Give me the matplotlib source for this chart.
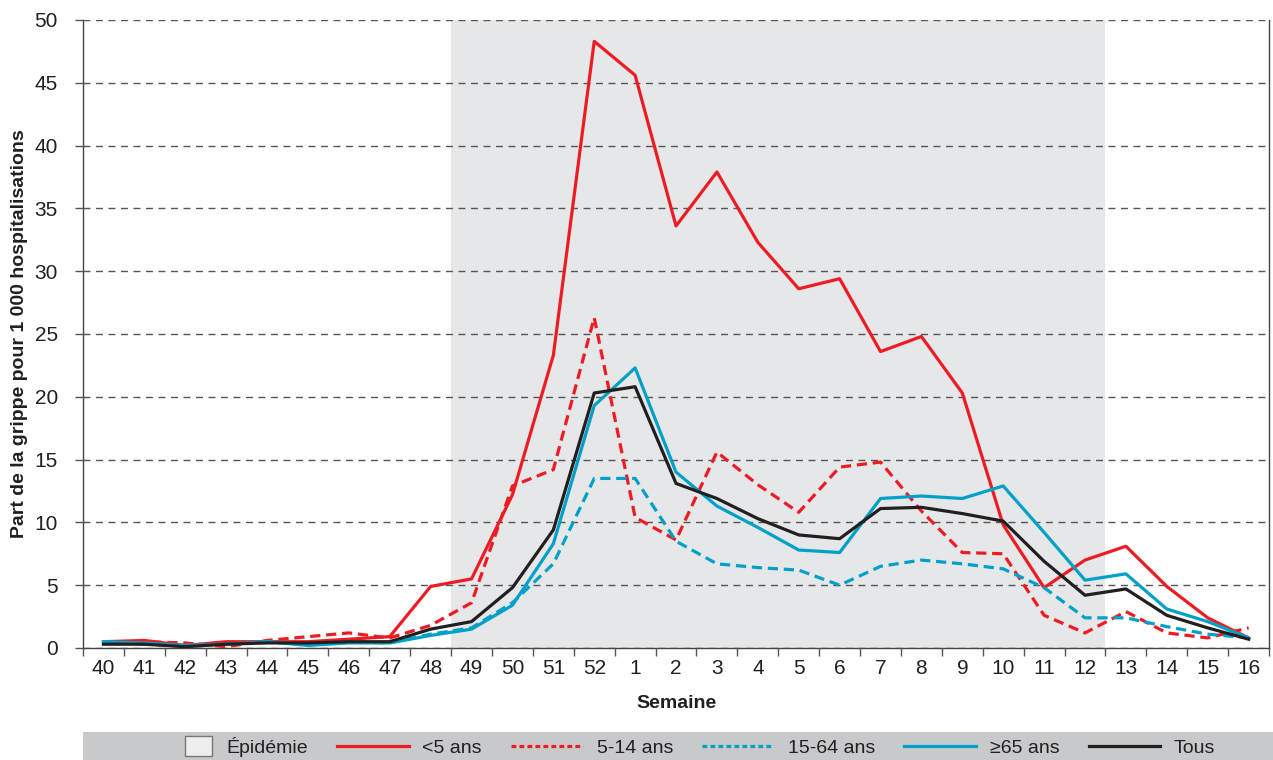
import numpy as np
import matplotlib
matplotlib.use("Agg")
import matplotlib.pyplot as plt
from matplotlib.patches import Rectangle, Patch
from matplotlib.lines import Line2D
from matplotlib.legend_handler import HandlerPatch

plt.rcParams["font.family"] = ["Liberation Sans", "DejaVu Sans"]

weeks = ["40", "41", "42", "43", "44", "45", "46", "47", "48", "49", "50", "51", "52",
         "1", "2", "3", "4", "5", "6", "7", "8", "9", "10", "11", "12", "13", "14", "15", "16"]

under5 = [0.5, 0.6, 0.2, 0.5, 0.5, 0.5, 0.7, 0.9, 4.9, 5.5, 12.2, 23.3, 48.3,
          45.6, 33.6, 37.9, 32.3, 28.6, 29.4, 23.6, 24.8, 20.3, 9.8, 4.8, 7.0, 8.1, 4.9, 2.4, 0.8]
age5_14 = [0.4, 0.5, 0.4, 0.1, 0.6, 0.9, 1.2, 0.8, 1.8, 3.6, 12.9, 14.2, 26.3,
           10.4, 8.6, 15.6, 13.0, 10.8, 14.4, 14.8, 10.9, 7.6, 7.5, 2.6, 1.2, 2.9, 1.2, 0.8, 1.6]
age15_64 = [0.5, 0.3, 0.2, 0.3, 0.5, 0.3, 0.5, 0.4, 1.1, 1.6, 3.6, 6.7, 13.5,
            13.5, 8.5, 6.7, 6.4, 6.2, 5.0, 6.5, 7.0, 6.7, 6.3, 4.8, 2.4, 2.4, 1.7, 1.1, 0.8]
age65 = [0.5, 0.4, 0.2, 0.3, 0.5, 0.2, 0.4, 0.4, 1.0, 1.5, 3.4, 8.3, 19.3,
         22.3, 14.0, 11.3, 9.6, 7.8, 7.6, 11.9, 12.1, 11.9, 12.9, 9.2, 5.4, 5.9, 3.1, 2.1, 0.8]
tous = [0.3, 0.3, 0.1, 0.3, 0.4, 0.4, 0.5, 0.5, 1.5, 2.1, 4.8, 9.4, 20.3,
        20.8, 13.1, 11.9, 10.3, 9.0, 8.7, 11.1, 11.2, 10.7, 10.1, 6.9, 4.2, 4.7, 2.6, 1.6, 0.7]

epidemic_start = "49"
epidemic_end = "12"

RED = "#ED1C24"
BLUE = "#00A1C8"
BLACK = "#231F20"
SHADE = "#E6E7E9"
BAND = "#C8C9CB"

fig = plt.figure(figsize=(12.73, 7.6), dpi=100)
ax = fig.add_axes([0.0652, 0.1474, 0.9317, 0.8263])

x = np.arange(len(weeks))
ax.axvspan(weeks.index(epidemic_start) - 0.5, weeks.index(epidemic_end) + 0.5,
           color=SHADE, lw=0, zorder=0)

lw = 2.3
ax.plot(x, under5, color=RED, lw=lw, zorder=3)
ax.plot(x, age5_14, color=RED, lw=lw, dashes=(3.2, 1.8), zorder=3)
ax.plot(x, age15_64, color=BLUE, lw=lw, dashes=(3.2, 1.8), zorder=3)
ax.plot(x, age65, color=BLUE, lw=lw, zorder=3)
ax.plot(x, tous, color=BLACK, lw=lw, zorder=4)

ax.set_xlim(-0.5, len(weeks) - 0.5)
ax.set_ylim(0, 50)
ax.set_yticks(np.arange(0, 51, 5))
ax.yaxis.grid(True, color="#555555", lw=1.0, dashes=(5, 4))
ax.set_axisbelow(False)
for gl in ax.yaxis.get_gridlines():
    gl.set_zorder(1)

ax.set_xticks(x)
ax.set_xticklabels(weeks)
ax.set_xticks(np.arange(-0.5, len(weeks)), minor=True)
ax.tick_params(axis="x", which="major", length=0, pad=8, labelsize=15, labelcolor=BLACK)
ax.tick_params(axis="x", which="minor", length=6, width=1, color="#555555", direction="out")
ax.tick_params(axis="y", length=6, width=1, color="#555555", pad=12, labelsize=15, labelcolor=BLACK)

ax.spines["top"].set_visible(False)
for side in ("left", "right", "bottom"):
    ax.spines[side].set_color("#444444")
    ax.spines[side].set_linewidth(1.0)

ax.set_xlabel("Semaine", fontsize=14, fontweight="bold", color=BLACK, labelpad=12)
ax.set_ylabel("Part de la grippe pour 1 000 hospitalisations", fontsize=14,
              fontweight="bold", color=BLACK, labelpad=5)

# legend band at the bottom
fig.patches.append(Rectangle((83 / 1273, 0), 1 - 83 / 1273, 28 / 760,
                             transform=fig.transFigure, color=BAND, lw=0, zorder=0))


def square_patch(legend, orig_handle, xdescent, ydescent, width, height, fontsize):
    side = height * 1.45
    w = side * 1.4
    return Rectangle((width - w - xdescent, -ydescent + height / 2 - side / 2), w, side)


handles = [
    Patch(facecolor="#EEEEEE", edgecolor="#777777", lw=1),
    Line2D([], [], color=RED, lw=lw),
    Line2D([], [], color=RED, lw=lw, dashes=(1.5, 1.0)),
    Line2D([], [], color=BLUE, lw=lw, dashes=(1.5, 1.0)),
    Line2D([], [], color=BLUE, lw=lw),
    Line2D([], [], color=BLACK, lw=lw),
]
labels = ["Épidémie", "<5 ans", "5-14 ans", "15-64 ans", "≥65 ans", "Tous"]
fig.legend(handles, labels, loc="center", bbox_to_anchor=((83 / 1273 + 1) / 2, 13 / 760),
           ncol=6, frameon=False, fontsize=14, handlelength=3.7, columnspacing=1.5,
           handletextpad=0.7, labelcolor=BLACK,
           handler_map={Patch: HandlerPatch(patch_func=square_patch)})

fig.savefig("out.png", dpi=100)
